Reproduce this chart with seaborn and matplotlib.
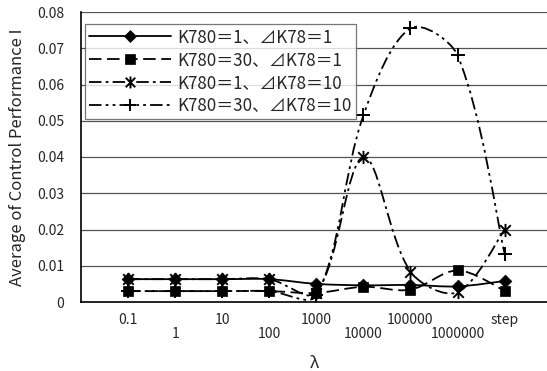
import numpy as np
import matplotlib
matplotlib.use('Agg')
import matplotlib.pyplot as plt
import seaborn as sns
from matplotlib.path import Path
from matplotlib.patches import PathPatch
from matplotlib.lines import Line2D
import pandas as pd

sns.set_style('white')
plt.rcParams['font.family'] = ['Noto Sans CJK JP', 'DejaVu Sans']
plt.rcParams['lines.scale_dashes'] = False

# ---- data ----
lambdas = ['0.1', '1', '10', '100', '1000', '10000', '100000', '1000000', 'step']
k1_d1 = [0.0063, 0.0063, 0.0063, 0.0063, 0.0050, 0.0046, 0.0047, 0.0043, 0.0058]
k30_d1 = [0.0030, 0.0030, 0.0030, 0.0030, 0.0025, 0.0042, 0.0034, 0.0087, 0.0031]
k1_d10 = [0.0063, 0.0063, 0.0063, 0.0063, 0.0025, 0.0400, 0.0084, 0.0027, 0.0200]
k30_d10 = [0.0030, 0.0030, 0.0030, 0.0030, 0.0018, 0.0515, 0.0755, 0.0680, 0.0133]
labels = ['K780＝1、⊿K78＝1', 'K780＝30、⊿K78＝1',
          'K780＝1、⊿K78＝10', 'K780＝30、⊿K78＝10']

star = Path([(0, -1), (0, 1), (-0.8, -0.8), (0.8, 0.8), (-0.8, 0.8), (0.8, -0.8)],
            [Path.MOVETO, Path.LINETO] * 3)

styles = [
    dict(ls='-', marker='D', ms=6.5, fill=True),
    dict(ls=(0, (9, 4)), marker='s', ms=6.5, fill=True),
    dict(ls=(0, (9, 3, 2, 3)), marker=star, ms=9.5, fill=False),
    dict(ls=(0, (9, 3, 2, 3, 2, 3)), marker='+', ms=10, fill=False),
]
series = [k1_d1, k30_d1, k1_d10, k30_d10]

rows = []
for lab, vals in zip(labels, series):
    for i, v in enumerate(vals):
        rows.append({'series': lab, 'x': i, 'y': v})
df = pd.DataFrame(rows)


def smooth_path(ax, xs, ys):
    # Excel-like smoothed line, control points sized by on-screen segment lengths
    p = ax.transData.transform(np.column_stack([xs, ys]).astype(float))
    n = len(p)
    d = np.r_[0, np.hypot(*np.diff(p, axis=0).T), 0]
    verts = [p[0]]
    codes = [Path.MOVETO]
    for i in range(n - 1):
        p0 = p[i - 1] if i > 0 else p[i]
        p3 = p[i + 2] if i + 2 < n else p[i + 1]
        seg = d[i + 1]
        f1 = seg / (d[i] + seg) if i > 0 else 0.5
        f2 = seg / (seg + d[i + 2]) if i + 2 < n else 0.5
        c1 = p[i] + (p[i + 1] - p0) * f1 / 3
        c2 = p[i + 1] - (p3 - p[i]) * f2 / 3
        verts += [c1, c2, p[i + 1]]
        codes += [Path.CURVE4] * 3
    verts = ax.transData.inverted().transform(np.array(verts))
    return Path(verts, codes)


fig = plt.figure(figsize=(5.47, 3.71), dpi=100)
ax = fig.add_axes([81 / 547, 1 - 302 / 371, 466 / 547, 290 / 371])
ax.set_xlim(-1, 8.9)
ax.set_ylim(0, 0.08)

for lab, st in zip(labels, styles):
    sub = df[df['series'] == lab]
    ax.add_patch(PathPatch(smooth_path(ax, sub['x'], sub['y']), fill=False,
                           edgecolor='black', lw=1.3, linestyle=st['ls'], zorder=3))
    lw = 0.5 if st['fill'] else 1.4
    sns.scatterplot(data=sub, x='x', y='y', marker=st['marker'], s=st['ms'] ** 2,
                    color='black', edgecolor='black', linewidth=lw, ax=ax, zorder=4)

ax.set_xlim(-1, 8.9)
ax.set_ylim(0, 0.08)
ax.set_yticks(np.arange(0, 0.081, 0.01))
ax.set_yticklabels(['0'] + [f'{v:.2f}' for v in np.arange(0.01, 0.081, 0.01)])
ax.set_xticks(range(len(lambdas)))
ax.set_xticklabels(lambdas)
ax.tick_params(axis='both', length=0, labelsize=10)
ax.tick_params(axis='y', pad=12)
for i, t in enumerate(ax.xaxis.get_major_ticks()):
    t.set_pad(8 if i % 2 == 0 else 18)

ax.grid(axis='y', color='#555555', lw=0.9)
ax.set_axisbelow(True)
for s in ['top', 'right']:
    ax.spines[s].set_visible(False)
for s in ['left', 'bottom']:
    ax.spines[s].set_color('black')
    ax.spines[s].set_linewidth(1.2)

ax.set_xlabel('λ', fontsize=12, labelpad=10)
ax.set_ylabel('Average of Control Performance I', fontsize=12, labelpad=8)

handles = [Line2D([], [], color='black', lw=1.3, linestyle=st['ls'], marker=st['marker'],
                  markersize=st['ms'] * (1 if st['fill'] else 0.9),
                  markerfacecolor='black' if st['fill'] else 'none',
                  markeredgecolor='black', markeredgewidth=1.4 if not st['fill'] else 0.5)
           for st in styles]
leg = ax.legend(handles, labels, loc='upper left', bbox_to_anchor=(4 / 466, 278 / 290),
                borderaxespad=0, fontsize=12.2, handlelength=4.8, handletextpad=0.4,
                labelspacing=0.28, frameon=True, fancybox=False, borderpad=0.25)
leg.get_frame().set_edgecolor('#555555')
leg.get_frame().set_linewidth(0.9)
leg.set_zorder(5)

fig.savefig('out.png', dpi=100)
